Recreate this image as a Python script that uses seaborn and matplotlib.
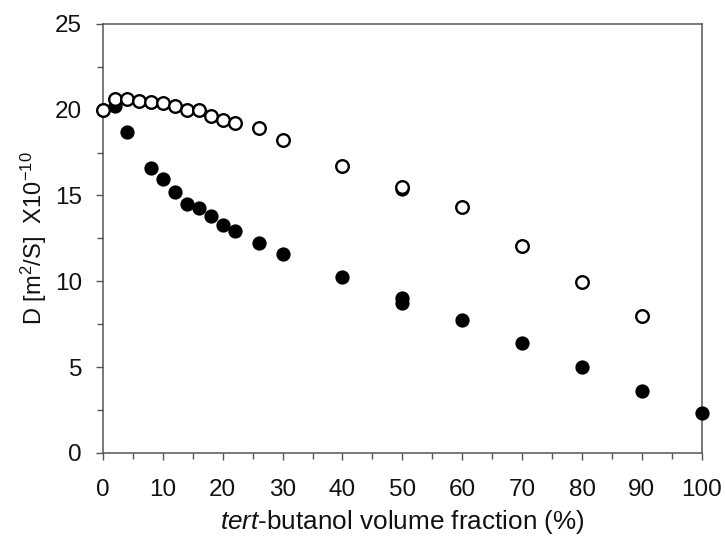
import numpy as np
import pandas as pd
import matplotlib
matplotlib.use('Agg')
import matplotlib.pyplot as plt
import seaborn as sns
from matplotlib.ticker import MultipleLocator

# open circles
open_x = [0, 2, 4, 6, 8, 10, 12, 14, 16, 18, 20, 22, 26, 30, 40, 50, 60, 70, 80, 90]
open_y = [20.0, 20.6, 20.6, 20.5, 20.45, 20.4, 20.2, 20.0, 19.95, 19.6, 19.4, 19.2,
          18.9, 18.2, 16.7, 15.5, 14.3, 12.05, 9.95, 7.95]

# filled circles
filled_x = [0, 2, 4, 8, 10, 12, 14, 16, 18, 20, 22, 26, 30, 40, 50, 50, 50, 60, 70, 80, 90, 100]
filled_y = [20.0, 20.2, 18.7, 16.6, 15.95, 15.2, 14.5, 14.25, 13.8, 13.25, 12.9,
            12.25, 11.6, 10.25, 15.35, 9.0, 8.75, 7.75, 6.4, 5.0, 3.6, 2.3]

df_open = pd.DataFrame({'x': open_x, 'y': open_y})
df_filled = pd.DataFrame({'x': filled_x, 'y': filled_y})

sns.set_style('ticks')
plt.rcParams['font.family'] = ['Liberation Sans', 'DejaVu Sans']
plt.rcParams['mathtext.fontset'] = 'custom'
plt.rcParams['mathtext.rm'] = 'Liberation Sans'
plt.rcParams['mathtext.it'] = 'Liberation Sans:italic'

fig = plt.figure(figsize=(7.25, 5.41), dpi=100)
ax = fig.add_axes([0.142, 0.163, 0.826, 0.793])

sns.scatterplot(data=df_filled, x='x', y='y', ax=ax, color='black',
                edgecolor='black', linewidth=1.2, s=82, zorder=3, legend=False)
sns.scatterplot(data=df_open, x='x', y='y', ax=ax, color='white',
                edgecolor='black', linewidth=1.7, s=82, zorder=4, legend=False)

ax.set_xlim(0, 100)
ax.set_ylim(0, 25)
ax.xaxis.set_major_locator(MultipleLocator(10))
ax.xaxis.set_minor_locator(MultipleLocator(5))
ax.yaxis.set_major_locator(MultipleLocator(5))
ax.yaxis.set_minor_locator(MultipleLocator(2.5))
ax.tick_params(which='both', direction='out', color='#555555', width=1,
               labelsize=17.5, labelcolor='#111111', top=False, right=False)
ax.tick_params(which='major', length=5)
ax.tick_params(axis='x', which='major', pad=14)
ax.tick_params(axis='y', which='major', pad=10)
ax.tick_params(which='minor', length=4)
for sp in ax.spines.values():
    sp.set_visible(True)
    sp.set_color('#555555')
    sp.set_linewidth(1.1)
for coll in ax.collections:
    coll.set_clip_on(False)

ax.set_xlabel(r'$\it{tert}$-butanol volume fraction (%)', fontsize=18.8,
              labelpad=5, color='#111111')
ax.set_ylabel(r'D [m$^{2}$/S]  X10$^{\mathrm{-10}}$', fontsize=17,
              labelpad=4, color='#111111')

fig.savefig('out.png', dpi=100)
